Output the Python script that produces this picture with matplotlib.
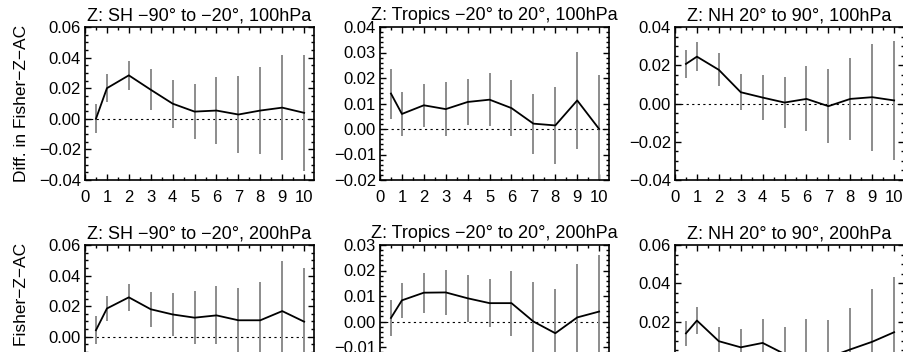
import matplotlib
matplotlib.use("Agg")
import matplotlib.pyplot as plt
from matplotlib.ticker import MultipleLocator, AutoMinorLocator

plt.rcParams["font.family"] = ["Liberation Sans", "DejaVu Sans"]

# lead positions (first point sits half way to 1)
lead = [0.5, 1, 2, 3, 4, 5, 6, 7, 8, 9, 10]
xtick_labels = [str(i) for i in range(11)]

titles = [
    "Z: SH \u221290\u00b0 to \u221220\u00b0, 100hPa",
    "Z: Tropics \u221220\u00b0 to 20\u00b0, 100hPa",
    "Z: NH 20\u00b0 to 90\u00b0, 100hPa",
    "Z: SH \u221290\u00b0 to \u221220\u00b0, 200hPa",
    "Z: Tropics \u221220\u00b0 to 20\u00b0, 200hPa",
    "Z: NH 20\u00b0 to 90\u00b0, 200hPa",
]

# mean difference per panel
sh100 = [0.000, 0.020, 0.0284, 0.019, 0.0099, 0.0047, 0.0054, 0.0028, 0.0054, 0.0073, 0.0039]
tr100 = [0.0139, 0.0059, 0.0093, 0.0078, 0.0106, 0.0115, 0.0082, 0.0021, 0.0014, 0.0112, 0.000]
nh100 = [0.0207, 0.0245, 0.0176, 0.0059, 0.0031, 0.0005, 0.0024, -0.0014, 0.0024, 0.0033, 0.0016]
sh200 = [0.0043, 0.0185, 0.0258, 0.018, 0.0146, 0.0125, 0.014, 0.0108, 0.0108, 0.0168, 0.0099]
tr200 = [0.0014, 0.0083, 0.0113, 0.0114, 0.0091, 0.0072, 0.0072, 0.000, -0.0046, 0.0016, 0.0039]
nh200 = [0.0138, 0.0205, 0.0097, 0.0065, 0.0088, 0.003, 0.001, 0.0012, 0.0054, 0.0094, 0.0144]

# half width of the uncertainty bars
sh100_err = [0.0095, 0.009, 0.0095, 0.0135, 0.0156, 0.018, 0.0217, 0.025, 0.0285, 0.0344, 0.0377]
tr100_err = [0.0098, 0.0085, 0.0085, 0.0106, 0.0092, 0.0103, 0.011, 0.0118, 0.0152, 0.019, 0.021]
nh100_err = [0.0075, 0.0074, 0.0087, 0.0094, 0.0116, 0.0133, 0.017, 0.0193, 0.0213, 0.028, 0.031]
sh200_err = [0.009, 0.008, 0.0088, 0.0113, 0.0143, 0.0172, 0.019, 0.021, 0.025, 0.0327, 0.035]
tr200_err = [0.0072, 0.0068, 0.0078, 0.0088, 0.0093, 0.0095, 0.0128, 0.0154, 0.0175, 0.021, 0.022]
nh200_err = [0.0067, 0.0072, 0.0074, 0.0094, 0.0123, 0.014, 0.0203, 0.0195, 0.0215, 0.0274, 0.029]

means = [sh100, tr100, nh100, sh200, tr200, nh200]
errs = [sh100_err, tr100_err, nh100_err, sh200_err, tr200_err, nh200_err]
ylims = [(-0.04, 0.06), (-0.02, 0.04), (-0.04, 0.04),
         (-0.04, 0.06), (-0.03, 0.03), (-0.02, 0.06)]
ysteps = [0.02, 0.01, 0.02, 0.02, 0.01, 0.02]

W, H = 904, 352
fig = plt.figure(figsize=(W / 100, H / 100), dpi=100)

lefts = [85, 380, 675]
tops = [27, 245]
aw, ah = 229, 153

for i in range(6):
    r, c = divmod(i, 3)
    ax = fig.add_axes([lefts[c] / W, 1 - (tops[r] + ah) / H, aw / W, ah / H])
    y = means[i]
    e = errs[i]
    ax.vlines(lead, [m - d for m, d in zip(y, e)], [m + d for m, d in zip(y, e)],
              color="#8c8c8c", lw=1.4, zorder=2)
    ax.plot(lead, y, color="black", lw=1.3, zorder=3)
    ax.axhline(0, color="black", lw=0.8, ls=(0, (2, 3)), zorder=1)

    ax.set_xlim(0, 10.45)
    ax.set_ylim(*ylims[i])
    ax.set_xticks(range(11))
    ax.set_xticklabels(xtick_labels)
    ax.xaxis.set_minor_locator(MultipleLocator(0.5))
    ax.yaxis.set_major_locator(MultipleLocator(ysteps[i]))
    ax.yaxis.set_minor_locator(AutoMinorLocator(4 if ysteps[i] == 0.02 else 5))
    ax.set_yticks(ax.get_yticks())
    ax.set_yticklabels([("%.2f" % v).replace("-", "\u2212") for v in ax.get_yticks()])
    ax.set_ylim(*ylims[i])

    ax.tick_params(which="both", direction="in", top=True, right=True, width=1.0)
    ax.tick_params(which="major", length=4)
    ax.tick_params(which="minor", length=2)
    ax.tick_params(axis="y", labelsize=12, pad=3)
    ax.tick_params(axis="x", labelsize=12, pad=7)
    # second row is cut by the figure edge, its x labels fall outside anyway
    if r == 1:
        ax.tick_params(axis="x", labelbottom=False)
    for sp in ax.spines.values():
        sp.set_linewidth(1.2)
    ax.set_title(titles[i], fontsize=13, pad=5)
    if c == 0:
        ax.set_ylabel("Diff. in Fisher\u2212Z\u2212AC", fontsize=12.5, labelpad=7)

fig.savefig("out.png", dpi=100)
